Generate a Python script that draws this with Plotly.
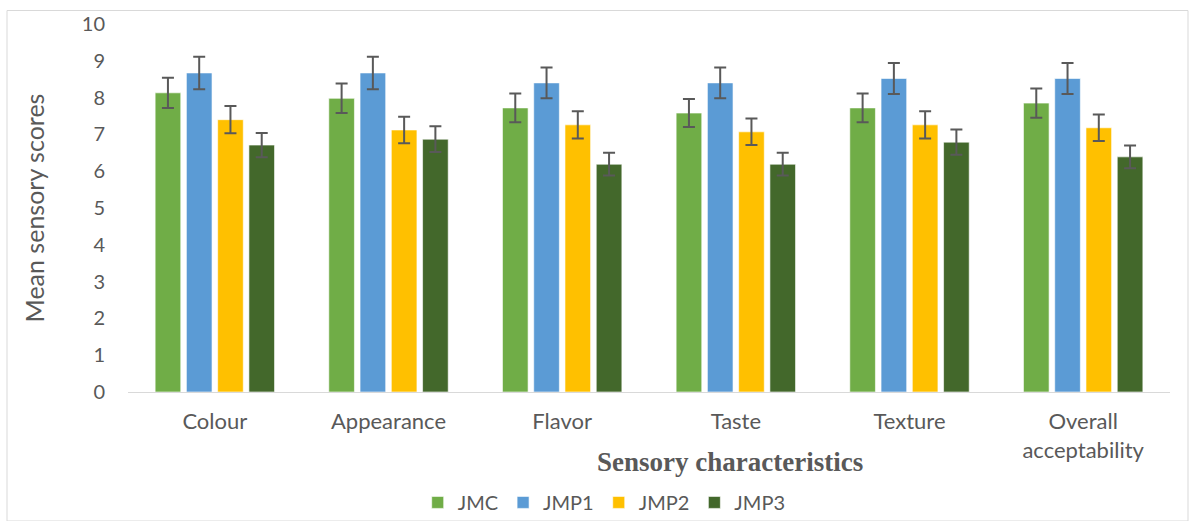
import plotly.graph_objects as go

categories = ["Colour", "Appearance", "Flavor", "Taste", "Texture", "Overall<br>acceptability"]
series_names = ["JMC", "JMP1", "JMP2", "JMP3"]
jmc = [8.13, 7.98, 7.72, 7.58, 7.72, 7.85]
jmp1 = [8.67, 8.67, 8.40, 8.40, 8.52, 8.52]
jmp2 = [7.40, 7.12, 7.26, 7.07, 7.26, 7.18]
jmp3 = [6.71, 6.87, 6.19, 6.19, 6.79, 6.39]
jmc_err = [0.41, 0.40, 0.39, 0.38, 0.39, 0.40]
jmp1_err = [0.44, 0.44, 0.42, 0.42, 0.42, 0.42]
jmp2_err = [0.37, 0.36, 0.37, 0.36, 0.37, 0.36]
jmp3_err = [0.33, 0.35, 0.31, 0.31, 0.34, 0.31]
y_ticks = [0, 1, 2, 3, 4, 5, 6, 7, 8, 9, 10]

colors = ["#70AD47", "#5B9BD5", "#FFC000", "#43682B"]
values = [jmc, jmp1, jmp2, jmp3]
errors = [jmc_err, jmp1_err, jmp2_err, jmp3_err]

fig = go.Figure()
for name, vals, errs, col in zip(series_names, values, errors, colors):
    fig.add_trace(go.Bar(
        x=categories, y=vals, name=name,
        marker=dict(color=col, line=dict(color="rgba(255,255,255,0.6)", width=1)),
        error_y=dict(type="data", array=errs, visible=True, color="#595959", thickness=2, width=6),
    ))

fig.update_layout(
    width=1192, height=521,
    margin=dict(l=128, r=22, t=24, b=129, autoexpand=False),
    paper_bgcolor="white", plot_bgcolor="white",
    barmode="group", bargap=0.28, bargroupgap=0.18,
    font=dict(family="Lato, Open Sans, sans-serif", color="#595959", size=20),
    xaxis=dict(showline=True, linecolor="#D9D9D9", linewidth=1, ticks="", automargin=False,
               tickfont=dict(size=22, color="#595959"), ticklabelstandoff=10),
    yaxis=dict(range=[0, 10], tickvals=y_ticks, showgrid=False, zeroline=False, showline=False, automargin=False,
               tickfont=dict(size=20, color="#595959"), ticklabelstandoff=22,
               title=dict(text="Mean sensory scores", font=dict(size=25, color="#595959"), standoff=30)),
    legend=dict(orientation="h", x=0.457, xanchor="center", y=-0.30, yanchor="middle",
                bgcolor="rgba(0,0,0,0)", font=dict(size=20, color="#595959"), itemwidth=30, traceorder="normal"),
    showlegend=True,
)
fig.add_annotation(text="<b>Sensory characteristics</b>", xref="paper", yref="paper",
                   x=(730 - 128) / 1042, y=-0.19, xanchor="center", yanchor="middle", showarrow=False,
                   font=dict(family="Liberation Serif, Times New Roman, serif", size=27, color="#595959"))
fig.add_shape(type="rect", xref="paper", yref="paper",
              x0=(7 - 128) / 1042, x1=(1188 - 128) / 1042, y0=(392 - 521) / 368, y1=(392 - 10.5) / 368,
              line=dict(color="#D9D9D9", width=1), fillcolor="rgba(0,0,0,0)", layer="below")

fig.write_html("out.html", config={"displayModeBar": False},
               post_script="document.body.style.margin='0';")
